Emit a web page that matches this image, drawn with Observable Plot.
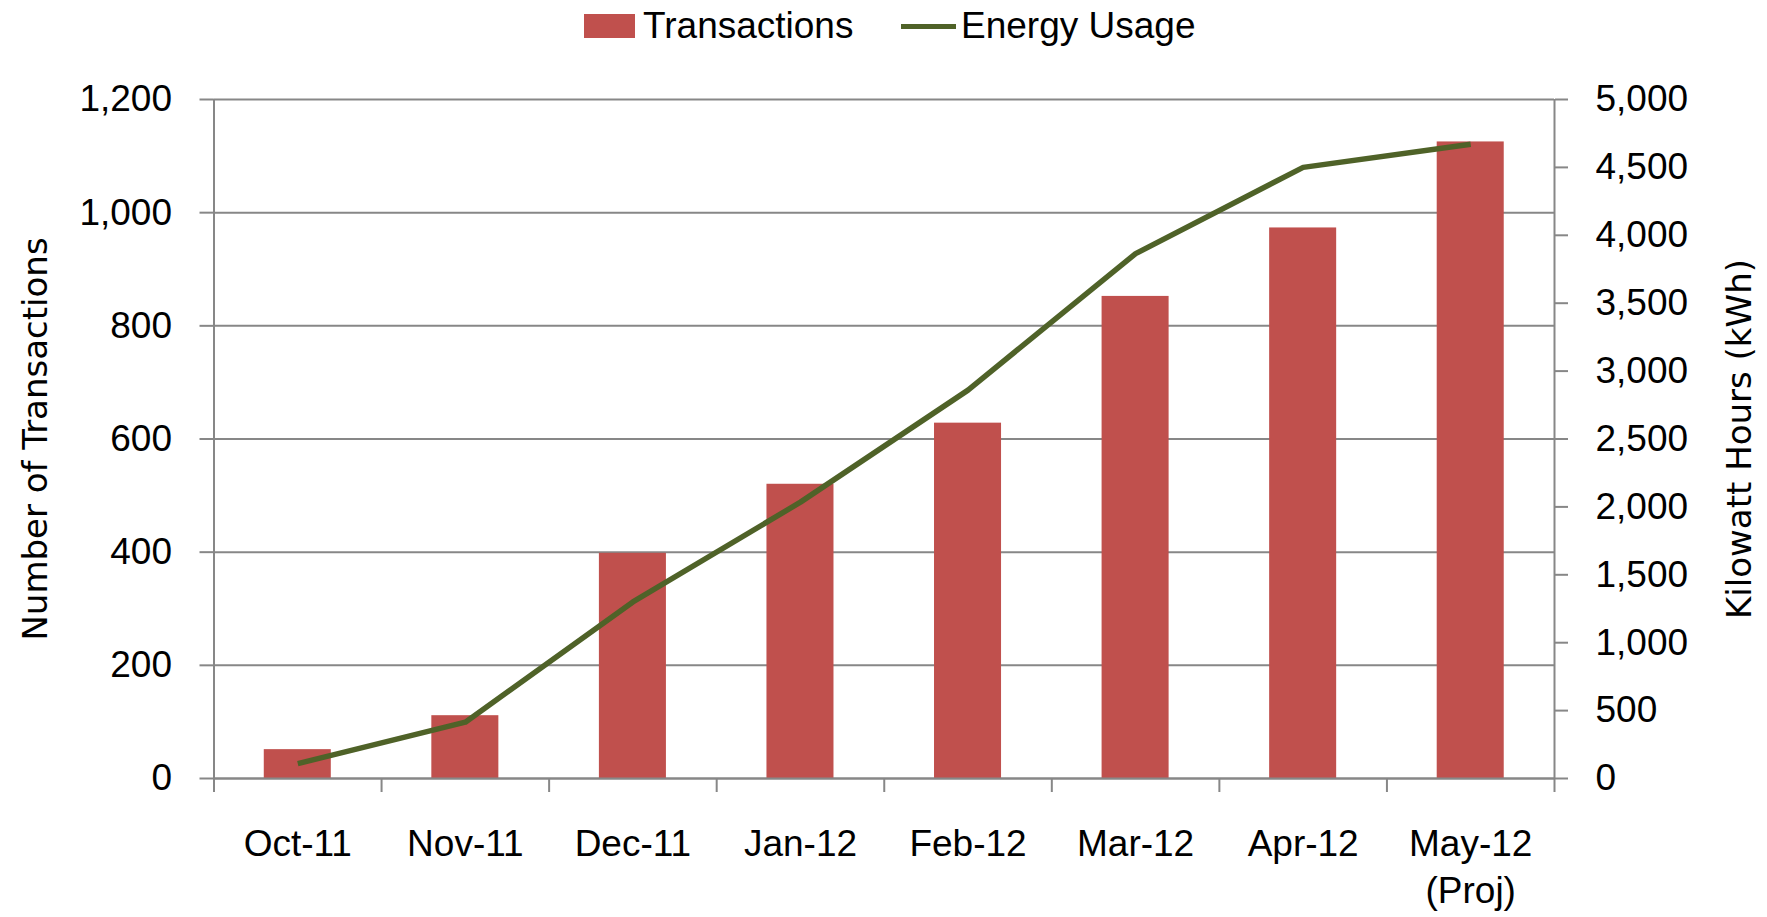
<!DOCTYPE html>
<html>
<head>
<meta charset="utf-8">
<script src="https://cdn.jsdelivr.net/npm/d3@7"></script>
<script src="https://cdn.jsdelivr.net/npm/@observablehq/plot@0.6"></script>
<style>
  html, body { margin: 0; padding: 0; background: #fff; overflow: hidden; }
  #legend { position: relative; width: 1767px; height: 50px; font-family: "Liberation Sans", Arial, sans-serif; font-size: 37px; color: #000; }
  #legend .sw { position: absolute; }
  #legend .lab { position: absolute; top: 6px; line-height: 40px; white-space: nowrap; }
</style>
</head>
<body>
<div id="legend">
  <div class="sw" style="left:584px;top:14px;width:51px;height:24px;background:#C0504D"></div>
  <div class="lab" style="left:643px">Transactions</div>
  <div class="sw" style="left:901px;top:24px;width:55px;height:5px;background:#4F6228"></div>
  <div class="lab" style="left:961px">Energy Usage</div>
</div>
<div id="chart"></div>
<script>
const months = ["Oct-11", "Nov-11", "Dec-11", "Jan-12", "Feb-12", "Mar-12", "Apr-12", "May-12\n(Proj)"];
const transactions = [51, 111, 398, 520, 628, 852, 973, 1125];
const energy = [110, 415, 1300, 2035, 2860, 3865, 4500, 4670];
const leftTicks = [0, 200, 400, 600, 800, 1000, 1200];
const rightTicks = [0, 500, 1000, 1500, 2000, 2500, 3000, 3500, 4000, 4500, 5000];
const leftMax = 1200, rightMax = 5000;
const ratio = leftMax / rightMax;

const data = months.map((m, i) => ({i, month: m, transactions: transactions[i], energy: energy[i]}));
const fmt = d3.format(",");
const gray = "#878787";

const chart = Plot.plot({
  width: 1767,
  height: 867,
  marginLeft: 213.5,
  marginRight: 213,
  marginTop: 49,
  marginBottom: 139,
  style: {fontFamily: "'Liberation Sans', Arial, sans-serif", fontSize: "37px", color: "#000", background: "#fff"},
  x: {domain: [0, months.length]},
  y: {domain: [0, leftMax]},
  marks: [
    Plot.gridY(leftTicks, {stroke: gray, strokeOpacity: 1, strokeWidth: 2}),
    Plot.rectY(data, {x1: d => d.i + 0.3, x2: d => d.i + 0.7, y1: 0, y2: "transactions", fill: "#C0504D"}),
    Plot.ruleX([0, months.length], {stroke: gray, strokeWidth: 2}),
    Plot.ruleY([0], {stroke: gray, strokeWidth: 2}),
    Plot.line(data, {x: d => d.i + 0.5, y: d => d.energy * ratio, stroke: "#4F6228", strokeWidth: 5.5, strokeLinejoin: "round", strokeLinecap: "butt"}),
    Plot.axisY({anchor: "left", ticks: leftTicks, tickSize: 14, tickPadding: 28, tickFormat: fmt, stroke: gray, strokeWidth: 2, label: null}),
    Plot.axisY({anchor: "right", ticks: rightTicks.map(v => v * ratio), tickSize: 13, tickPadding: 28, tickFormat: v => fmt(Math.round(v / ratio)), stroke: gray, strokeWidth: 2, label: null}),
    Plot.axisX({ticks: d3.range(0, months.length + 1), tickSize: 14, tickFormat: () => "", stroke: gray, strokeWidth: 2, label: null}),
    Plot.axisX({ticks: d3.range(months.length).map(i => i + 0.5), tickSize: 0, tickPadding: 44, lineHeight: 1.27, tickFormat: v => months[Math.round(v - 0.5)], label: null}),
    Plot.text(["Number of Transactions"], {frameAnchor: "left", textAnchor: "middle", rotate: -90, dx: -178, fontFamily: "'DejaVu Sans', sans-serif", fontSize: 34, fill: "#000"}),
    Plot.text(["Kilowatt Hours (kWh)"], {frameAnchor: "right", textAnchor: "middle", rotate: -90, dx: 186, fontFamily: "'DejaVu Sans', sans-serif", fontSize: 34, fill: "#000"})
  ]
});
document.getElementById("chart").appendChild(chart);
</script>
</body>
</html>
